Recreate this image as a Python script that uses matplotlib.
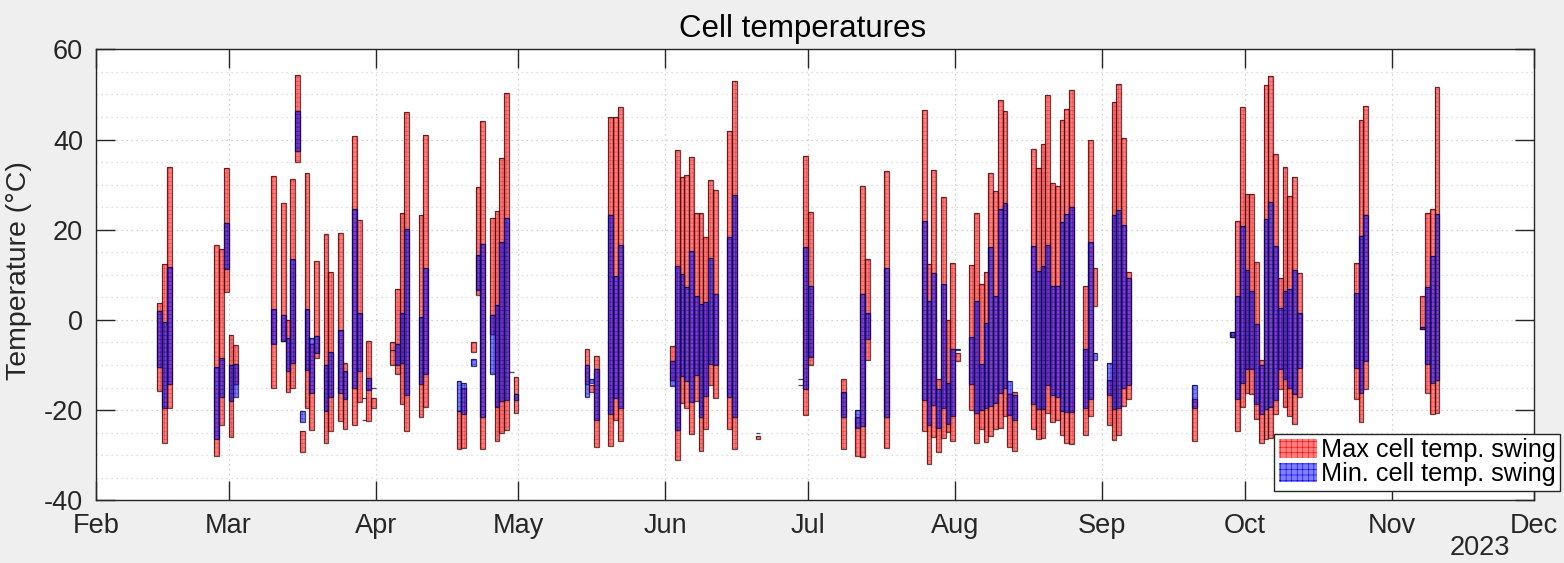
import numpy as np
import pandas as pd
import matplotlib
matplotlib.use('Agg')
import matplotlib.pyplot as plt
import matplotlib.dates as mdates
from matplotlib.patches import Patch

plt.rcParams['font.family'] = ['Liberation Sans', 'DejaVu Sans']
plt.rcParams['axes.unicode_minus'] = False
plt.rcParams['hatch.linewidth'] = 0.4

# daily swing of cell temperature, 2023 (month-day)
days = [
    '02-14', '02-15', '02-16', '02-26', '02-27', '02-28', '03-01', '03-02',
    '03-10', '03-12', '03-13', '03-14', '03-15', '03-16', '03-17', '03-18',
    '03-19', '03-21', '03-22', '03-24', '03-25', '03-27', '03-28', '03-29',
    '03-30', '03-31', '04-04', '04-05', '04-06', '04-07', '04-10', '04-11',
    '04-18', '04-19', '04-21', '04-22', '04-23', '04-25', '04-26', '04-27',
    '04-28', '04-29', '04-30', '05-15', '05-16', '05-17', '05-20', '05-21',
    '05-22', '06-02', '06-03', '06-04', '06-05', '06-06', '06-07', '06-08',
    '06-09', '06-10', '06-11', '06-14', '06-15', '06-20', '06-29', '06-30',
    '07-01', '07-08', '07-11', '07-12', '07-13', '07-17', '07-25', '07-26',
    '07-27', '07-28', '07-29', '07-30', '07-31', '08-01', '08-04', '08-05',
    '08-06', '08-07', '08-08', '08-09', '08-10', '08-11', '08-12', '08-13',
    '08-17', '08-18', '08-19', '08-20', '08-21', '08-22', '08-23', '08-24',
    '08-25', '08-28', '08-29', '08-30', '09-02', '09-03', '09-04', '09-05',
    '09-06', '09-20', '09-28', '09-29', '09-30', '10-01', '10-02', '10-03',
    '10-04', '10-05', '10-06', '10-07', '10-08', '10-09', '10-10', '10-11',
    '10-12', '10-24', '10-25', '10-26', '11-07', '11-08', '11-09', '11-10',
]

# hottest cell: daily high / low
max_hi = [
    3.8, 12.4, 34.0, 16.7, 15.8, 33.6, -3.3, -5.6,
    32.0, 26.0, -0.1, 31.3, 54.3, -24.6, 32.5, -5.3,
    13.0, 19.0, 10.7, 19.3, -9.6, 40.7, 22.1, -22.1,
    -4.7, -17.3, -5.0, 6.9, 23.6, 46.0, 23.3, 41.1,
    -20.1, -15.0, -5.0, 29.4, 44.0, 22.7, 24.2, 35.8,
    50.4, np.nan, -12.7, -6.4, -14.4, -8.0, 44.9, 44.9,
    47.3, -5.8, 37.7, 31.6, 32.2, 36.2, 23.8, 23.6,
    18.4, 31.1, 28.7, 41.9, 52.9, -25.8, -14.4, 36.4,
    24.0, -13.1, -21.6, 29.8, 13.6, 33.0, 46.5, 12.4,
    33.3, -13.1, 27.3, 0.0, 12.6, -7.3, 12.2, 23.6,
    8.0, 10.7, 32.5, 28.6, 48.7, 46.4, -16.4, -15.9,
    38.0, 33.6, 39.1, 49.8, 30.4, 29.8, 44.4, 46.7,
    50.9, 7.6, 40.0, 11.4, -13.3, 48.4, 52.4, 40.4,
    10.7, -17.6, -2.7, 21.9, 47.2, 28.0, 28.0, 12.8,
    -8.9, 52.0, 54.1, 36.7, 9.3, 34.0, 27.4, 31.6,
    10.4, 12.7, 44.4, 47.5, 5.4, 23.6, 24.7, 51.7,
]
max_lo = [
    -15.8, -27.3, -19.6, -30.1, -23.3, 6.2, -25.9, -14.2,
    -15.1, -4.7, -15.9, -15.0, 35.0, -29.4, -19.5, -24.4,
    -8.4, -27.3, -24.6, -22.4, -24.2, -23.3, -18.1, -22.1,
    -22.4, -19.6, -9.9, -12.0, -18.7, -24.7, -21.6, -19.3,
    -28.7, -28.4, -7.1, 5.6, -28.6, -3.1, -26.8, -25.0,
    -24.4, np.nan, -20.7, -14.2, -15.9, -28.2, -28.0, -22.2,
    -26.8, -13.3, -31.1, -18.4, -19.6, -25.3, -18.0, -29.0,
    -24.2, -14.4, -17.3, -24.2, -28.7, -26.5, -14.4, -21.1,
    -10.0, -28.7, -30.2, -30.4, -8.8, -28.4, -24.6, -31.9,
    -26.0, -29.3, -26.1, -24.8, -26.9, -9.2, -20.0, -27.4,
    -24.2, -27.0, -25.8, -24.2, -24.0, -21.3, -28.2, -29.0,
    -24.2, -26.4, -26.1, -20.7, -22.7, -22.2, -25.6, -27.3,
    -27.6, -25.6, -21.2, 3.0, -23.3, -26.7, -25.6, -19.1,
    -17.6, -26.8, -3.7, -24.7, -19.4, -16.3, -16.4, -21.9,
    -27.3, -26.4, -26.2, -20.9, -15.3, -19.3, -21.3, -23.1,
    -17.0, -17.6, -22.6, -15.3, -2.1, -16.3, -20.9, -20.7,
]

# coldest cell: daily high / low
min_hi = [
    1.9, -0.5, 11.8, -10.4, -8.4, 21.5, -9.9, -9.7,
    2.5, 1.1, -4.0, 13.6, 46.4, -20.1, 2.4, -4.0,
    -3.6, -10.1, -7.1, -2.2, -11.3, 24.7, 1.6, -17.3,
    -12.9, -15.2, -6.6, -5.3, 1.6, 20.1, 0.7, 11.6,
    -13.6, -14.1, -8.7, 14.4, 16.9, 1.1, 3.4, 17.3,
    22.7, -11.5, -16.4, -9.9, -13.1, -10.9, 23.2, 9.8,
    16.7, -9.1, 12.0, 10.2, 7.4, 15.2, 5.2, 3.6,
    3.9, 13.8, 5.8, 18.4, 27.8, -25.0, -13.2, 16.1,
    7.6, -15.9, -20.0, 5.8, 1.6, 11.6, 22.0, 4.3,
    10.4, -15.3, 8.0, -14.1, -6.5, -6.4, -3.7, 4.3,
    -9.7, -0.7, 16.1, 5.2, 24.7, 26.0, -13.6, -16.6,
    16.3, 10.8, 12.0, 16.7, 7.6, 7.6, 21.7, 23.4,
    25.0, -6.4, 17.3, -7.3, -9.6, 23.3, 24.3, 21.0,
    9.3, -14.4, -2.7, 5.3, 20.9, 11.1, 6.3, -0.8,
    -9.9, 22.4, 26.2, 16.3, 2.6, 6.3, 6.8, 11.0,
    1.6, 6.0, 18.7, 23.2, -1.5, 7.2, 14.2, 23.4,
]
min_lo = [
    -10.5, -19.6, -14.2, -26.4, -17.0, 11.3, -18.0, -17.1,
    -5.4, -4.7, -11.3, -9.6, 37.5, -22.7, -11.2, -16.2,
    -7.3, -20.1, -17.1, -16.1, -17.6, -15.1, -11.3, -17.3,
    -15.6, -15.2, -6.6, -10.0, -9.6, -16.7, -14.2, -12.1,
    -20.1, -20.9, -10.3, 6.7, -21.6, -12.0, -19.4, -17.9,
    -17.7, -11.5, -17.7, -17.0, -13.9, -22.2, -20.9, -17.3,
    -19.6, -14.7, -24.4, -12.5, -13.6, -18.1, -12.3, -21.6,
    -16.9, -9.7, -10.0, -17.0, -21.6, -25.0, -13.2, -15.3,
    -8.2, -21.6, -23.9, -23.6, -4.3, -21.6, -17.7, -23.3,
    -18.9, -23.9, -19.6, -23.0, -21.3, -6.7, -14.2, -20.7,
    -19.9, -19.6, -19.0, -18.4, -16.2, -15.2, -21.0, -22.1,
    -18.7, -19.7, -19.7, -14.4, -16.7, -17.0, -20.1, -20.5,
    -20.5, -19.6, -17.6, -8.8, -16.7, -19.8, -19.6, -15.0,
    -14.4, -19.6, -3.7, -17.6, -13.9, -10.9, -10.9, -18.7,
    -20.9, -19.8, -19.4, -17.8, -10.9, -13.2, -15.1, -16.4,
    -10.7, -10.7, -16.2, -9.2, -2.1, -9.8, -13.9, -13.3,
]

dates = pd.to_datetime(['2023-' + d for d in days])
x = mdates.date2num(dates)
max_hi = np.array(max_hi)
max_lo = np.array(max_lo)
min_hi = np.array(min_hi)
min_lo = np.array(min_lo)

fig = plt.figure(figsize=(15.64, 5.63), dpi=100, facecolor='#efefef')
ax = fig.add_axes([0.0612, 0.1114, 0.9198, 0.801])
ax.set_facecolor('white')

# swing bars: hatched fill first, dark outline on top
ax.bar(x, max_hi - max_lo, bottom=max_lo, width=1, align='edge',
       color='red', edgecolor='red', linewidth=0, hatch='++++', alpha=0.5,
       zorder=2)
ax.bar(x, max_hi - max_lo, bottom=max_lo, width=1, align='edge',
       fill=False, edgecolor='#400000', linewidth=0.9, alpha=0.75, zorder=3)
ax.bar(x, min_hi - min_lo, bottom=min_lo, width=1, align='edge',
       color='blue', edgecolor='blue', linewidth=0, hatch='++++', alpha=0.5,
       zorder=4)
ax.bar(x, min_hi - min_lo, bottom=min_lo, width=1, align='edge',
       fill=False, edgecolor='#000040', linewidth=0.9, alpha=0.75, zorder=5)

ax.set_xlim(mdates.date2num(pd.Timestamp('2023-02-01')),
            mdates.date2num(pd.Timestamp('2023-12-01')))
ax.set_ylim(-40, 60)
ax.xaxis.set_major_locator(mdates.MonthLocator())
ax.xaxis.set_major_formatter(mdates.DateFormatter('%b'))
ax.set_yticks(np.arange(-40, 61, 20))
ax.set_yticks(np.arange(-40, 61, 5), minor=True)

ax.grid(True, which='major', linestyle=(0, (1, 3)), color='#c4c4c4',
        linewidth=0.9)
ax.grid(True, which='minor', axis='y', linestyle=(0, (1, 3)),
        color='#d4d4d4', linewidth=0.9)
ax.set_axisbelow(True)
ax.tick_params(which='major', direction='in', length=14, width=1,
               top=True, right=True, labelsize=19.5, colors='#262626',
               pad=9)
ax.tick_params(which='minor', length=0)
for s in ax.spines.values():
    s.set_color('#262626')
    s.set_linewidth(1)

ax.set_title('Cell temperatures', fontsize=22.5, color='black', pad=9,
             x=0.4917)
ax.set_ylabel('Temperature (°C)', fontsize=20.5, color='#262626')
ax.yaxis.set_label_coords(-0.0445, 0.51)
fig.text(1510 / 1564, 1 - 548 / 563, '2023', fontsize=19.5, color='#262626',
         ha='right', va='center')

handles = [
    Patch(facecolor=(1, 0, 0, 0.5), edgecolor='red', hatch='+++',
          linewidth=0),
    Patch(facecolor=(0, 0, 1, 0.5), edgecolor='blue', hatch='+++',
          linewidth=0),
]
leg = ax.legend(handles, ['Max cell temp. swing', 'Min. cell temp. swing'],
                loc='lower right', bbox_to_anchor=(1560 / 1564, 72 / 563),
                bbox_transform=fig.transFigure, borderaxespad=0,
                fontsize=18.2, fancybox=False, framealpha=1,
                handlelength=1.5, handleheight=0.8, handletextpad=0.15,
                labelspacing=0.0, borderpad=0.18)
leg.get_frame().set_edgecolor('#262626')
leg.get_frame().set_linewidth(1)
leg.set_zorder(10)

fig.savefig('out.png', dpi=100, facecolor=fig.get_facecolor())
